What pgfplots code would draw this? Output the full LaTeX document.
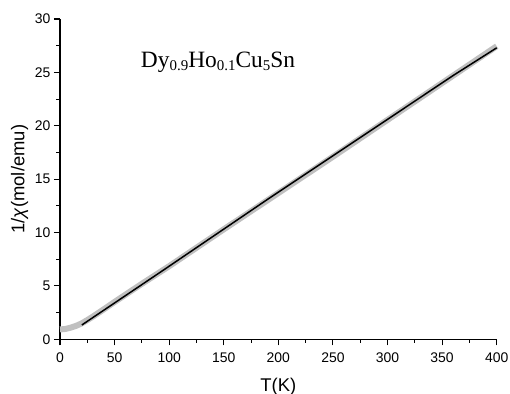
\documentclass[border=0pt]{standalone}
\usepackage{pgfplots}
\pgfplotsset{compat=1.18}
\usepackage{fontspec}
\setmainfont{Liberation Sans}
\newfontfamily\timesfont{Liberation Serif}
\newcommand\sub[1]{\raisebox{-2.8bp}{\fontsize{15}{16}\selectfont #1}}
\definecolor{datagray}{HTML}{C0C0C0}
\begin{document}
\begin{tikzpicture}
\begin{axis}[
 scale only axis, width=436.7bp, height=320.3bp,
 xmin=0, xmax=400, ymin=0, ymax=30,
 axis x line*=bottom, axis y line*=left,
 axis line style={line width=1.3bp},
 xtick={0,50,...,400}, ytick={0,5,...,30},
 minor x tick num=1, minor y tick num=1,
 tick align=outside, major tick length=6bp, minor tick length=3.5bp,
 tick style={line width=1.1bp, black},
 ticklabel style={font=\fontsize{14}{16}\selectfont},
 xticklabel style={yshift=-3.5bp},
 /pgf/number format/assume math mode=true,
 xlabel={T(K)}, ylabel={1/\textit{χ}(mol/emu)},
 label style={font=\fontsize{18.5}{21}\selectfont},
 xlabel style={yshift=-9bp},
 clip=false,
]
\coordinate (O) at (rel axis cs:0,0);
\addplot[datagray, line width=6bp, line cap=butt] coordinates {
(0,0.92) (5,0.97) (10,1.1) (15,1.27) (20,1.5) (25,1.8) (30,2.12) (40,2.8) (50,3.5)
(75,5.2) (100,6.85) (150,10.3) (200,13.7) (250,17.1) (300,20.55) (350,24.0) (400,27.45)
};
\addplot[black, line width=1.5bp] coordinates {
(20,1.34) (95,6.5) (190,13.1) (300,20.6) (360,24.7) (400,27.3)
};
\node[anchor=base west, font=\timesfont\fontsize{23.5}{26}\selectfont, inner sep=0pt]
 at (axis cs:74,25.45) {Dy\sub{0.9}Ho\sub{0.1}Cu\sub{5}Sn};
\end{axis}
\pgfresetboundingbox
\path[use as bounding box] ([shift={(-60bp,-54.7bp)}]O) rectangle ([shift={(450bp,339.3bp)}]O);
\end{tikzpicture}
\end{document}
